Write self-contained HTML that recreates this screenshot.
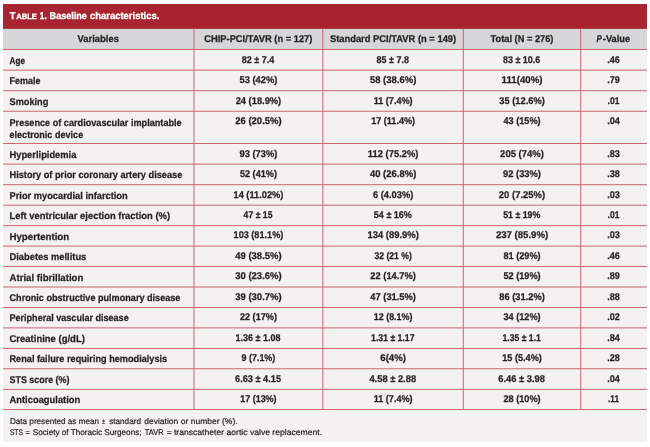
<!DOCTYPE html>
<html><head><meta charset="utf-8"><title>Table 1. Baseline characteristics</title>
<style>
html,body{margin:0;padding:0;background:#fff;}
svg{display:block;will-change:transform;}
svg text{white-space:pre;text-rendering:geometricPrecision;}
svg g.t{opacity:0.999;}
</style></head>
<body>
<svg width="650" height="447" viewBox="0 0 650 447">
<rect x="0" y="0" width="650" height="447" fill="#ffffff"/>
<rect x="3" y="49.5" width="644" height="392.3" fill="#f3f1f2"/>
<rect x="3" y="28.9" width="644" height="20.6" fill="#d6d5d8"/>
<rect x="3" y="4" width="644" height="24.9" fill="#a72430"/>
<g stroke="#c55664" stroke-width="0.9" fill="none">
<line x1="3" y1="49.5" x2="647" y2="49.5"/>
<line x1="3" y1="70.15" x2="647" y2="70.15"/>
<line x1="3" y1="90.7" x2="647" y2="90.7"/>
<line x1="3" y1="111.25" x2="647" y2="111.25"/>
<line x1="3" y1="143.5" x2="647" y2="143.5"/>
<line x1="3" y1="164.1" x2="647" y2="164.1"/>
<line x1="3" y1="184.7" x2="647" y2="184.7"/>
<line x1="3" y1="205.2" x2="647" y2="205.2"/>
<line x1="3" y1="225.65" x2="647" y2="225.65"/>
<line x1="3" y1="246.1" x2="647" y2="246.1"/>
<line x1="3" y1="266.45" x2="647" y2="266.45"/>
<line x1="3" y1="287.0" x2="647" y2="287.0"/>
<line x1="3" y1="307.5" x2="647" y2="307.5"/>
<line x1="3" y1="327.9" x2="647" y2="327.9"/>
<line x1="3" y1="348.45" x2="647" y2="348.45"/>
<line x1="3" y1="368.75" x2="647" y2="368.75"/>
<line x1="3" y1="389.4" x2="647" y2="389.4"/>
<line x1="3" y1="409.5" x2="647" y2="409.5"/>
<line x1="194.0" y1="28.9" x2="194.0" y2="409.5"/>
<line x1="322.85" y1="28.9" x2="322.85" y2="409.5"/>
<line x1="463.3" y1="28.9" x2="463.3" y2="409.5"/>
<line x1="580.7" y1="28.9" x2="580.7" y2="409.5"/>
</g>
<g class="t" font-family="'Liberation Sans', sans-serif" font-weight="bold" font-size="9.8" fill="#231f20" stroke="#231f20" stroke-width="0.25">
<text transform="translate(77.6,42.3) scale(0.9592,1)">Variables</text>
<text transform="translate(204.3,42.3) scale(0.9505,1)">CHIP-PCI/TAVR (n = 127)</text>
<text transform="translate(329.9,42.3) scale(0.9551,1)">Standard PCI/TAVR (n = 149)</text>
<text transform="translate(490.6,42.3) scale(0.9450,1)">Total (N = 276)</text>
<text transform="translate(596.5,42.3) scale(0.8000,1)" font-style="italic">P</text>
<text transform="translate(602.8,42.3) scale(0.9452,1)">-Value</text>
<text transform="translate(9.5,63.7) scale(0.8395,1)">Age</text>
<text transform="translate(241.86,62.8) scale(0.9162,1)">82 ± 7.4</text>
<text transform="translate(376.56,62.8) scale(0.9162,1)">85 ± 7.8</text>
<text transform="translate(502.92,62.8) scale(0.9181,1)">83 ± 10.6</text>
<text transform="translate(607.2,62.8) scale(0.9245,1)">.46</text>
<text transform="translate(9.5,84.35) scale(0.9151,1)">Female</text>
<text transform="translate(239.48,83.25) scale(0.9534,1)">53 (42%)</text>
<text transform="translate(369.94,83.25) scale(0.9675,1)">58 (38.6%)</text>
<text transform="translate(501.59,83.25) scale(0.9872,1)">111(40%)</text>
<text transform="translate(607.2,83.25) scale(0.9245,1)">.79</text>
<text transform="translate(9.5,104.9) scale(0.9375,1)">Smoking</text>
<text transform="translate(235.67,103.5) scale(0.9499,1)">24 (18.9%)</text>
<text transform="translate(373.74,103.5) scale(0.9244,1)">11 (7.4%)</text>
<text transform="translate(499.26,103.5) scale(0.9499,1)">35 (12.6%)</text>
<text transform="translate(607.62,103.5) scale(0.8652,1)">.01</text>
<text transform="translate(9.5,125.65) scale(0.9328,1)">Presence of cardiovascular implantable</text>
<text transform="translate(9.5,138.05) scale(0.9269,1)">electronic device</text>
<text transform="translate(235.25,124.1) scale(0.9675,1)">26 (20.5%)</text>
<text transform="translate(371.2,124.1) scale(0.9251,1)">17 (11.4%)</text>
<text transform="translate(503.5,124.1) scale(0.9321,1)">43 (15%)</text>
<text transform="translate(607.2,124.1) scale(0.9245,1)">.04</text>
<text transform="translate(9.5,157.7) scale(0.9522,1)">Hyperlipidemia</text>
<text transform="translate(239.48,156.8) scale(0.9534,1)">93 (73%)</text>
<text transform="translate(367.83,156.8) scale(0.9576,1)">112 (75.2%)</text>
<text transform="translate(500.12,156.8) scale(0.9693,1)">205 (74%)</text>
<text transform="translate(607.2,156.8) scale(0.9245,1)">.83</text>
<text transform="translate(9.5,178.3) scale(0.9389,1)">History of prior coronary artery disease</text>
<text transform="translate(239.9,177.3) scale(0.9321,1)">52 (41%)</text>
<text transform="translate(369.94,177.3) scale(0.9675,1)">40 (26.8%)</text>
<text transform="translate(503.07,177.3) scale(0.9534,1)">92 (33%)</text>
<text transform="translate(607.2,177.3) scale(0.9245,1)">.38</text>
<text transform="translate(9.5,198.9) scale(0.9480,1)">Prior myocardial infarction</text>
<text transform="translate(233.55,197.5) scale(0.9416,1)">14 (11.02%)</text>
<text transform="translate(372.9,197.5) scale(0.9523,1)">6 (4.03%)</text>
<text transform="translate(498.84,197.5) scale(0.9675,1)">20 (7.25%)</text>
<text transform="translate(607.2,197.5) scale(0.9245,1)">.03</text>
<text transform="translate(9.5,219.4) scale(0.9607,1)">Left ventricular ejection fraction (%)</text>
<text transform="translate(243.56,218) scale(0.8892,1)">47 ± 15</text>
<text transform="translate(373.86,218) scale(0.9201,1)">54 ± 16%</text>
<text transform="translate(503.17,218) scale(0.8999,1)">51 ± 19%</text>
<text transform="translate(607.62,218) scale(0.8652,1)">.01</text>
<text transform="translate(9.5,239.85) scale(0.9879,1)">Hypertention</text>
<text transform="translate(233.55,238.45) scale(0.9321,1)">103 (81.1%)</text>
<text transform="translate(367.41,238.45) scale(0.9637,1)">134 (89.9%)</text>
<text transform="translate(495.89,238.45) scale(0.9795,1)">237 (85.9%)</text>
<text transform="translate(607.2,238.45) scale(0.9245,1)">.03</text>
<text transform="translate(9.5,260.3) scale(0.9528,1)">Diabetes mellitus</text>
<text transform="translate(235.25,258.9) scale(0.9675,1)">49 (38.5%)</text>
<text transform="translate(374.38,258.9) scale(0.8822,1)">32 (21 %)</text>
<text transform="translate(503.5,258.9) scale(0.9321,1)">81 (29%)</text>
<text transform="translate(607.2,258.9) scale(0.9245,1)">.46</text>
<text transform="translate(9.5,280.65) scale(0.9836,1)">Atrial fibrillation</text>
<text transform="translate(235.25,279.25) scale(0.9675,1)">30 (23.6%)</text>
<text transform="translate(370.37,279.25) scale(0.9499,1)">22 (14.7%)</text>
<text transform="translate(503.5,279.25) scale(0.9321,1)">52 (19%)</text>
<text transform="translate(607.2,279.25) scale(0.9245,1)">.89</text>
<text transform="translate(9.5,300.9) scale(0.9287,1)">Chronic obstructive pulmonary disease</text>
<text transform="translate(235.25,299.8) scale(0.9675,1)">39 (30.7%)</text>
<text transform="translate(370.37,299.8) scale(0.9499,1)">47 (31.5%)</text>
<text transform="translate(499.26,299.8) scale(0.9499,1)">86 (31.2%)</text>
<text transform="translate(607.2,299.8) scale(0.9245,1)">.88</text>
<text transform="translate(9.5,321.3) scale(0.9234,1)">Peripheral vascular disease</text>
<text transform="translate(239.9,320.3) scale(0.9321,1)">22 (17%)</text>
<text transform="translate(373.74,320.3) scale(0.9125,1)">12 (8.1%)</text>
<text transform="translate(503.5,320.3) scale(0.9321,1)">34 (12%)</text>
<text transform="translate(607.2,320.3) scale(0.9245,1)">.02</text>
<text transform="translate(9.5,341.8) scale(0.9682,1)">Creatinine (g/dL)</text>
<text transform="translate(235.52,340.7) scale(0.9205,1)">1.36 ± 1.08</text>
<text transform="translate(371.06,340.7) scale(0.8865,1)">1.31 ± 1.17</text>
<text transform="translate(502.49,340.7) scale(0.8811,1)">1.35 ± 1.1</text>
<text transform="translate(607.2,340.7) scale(0.9245,1)">.84</text>
<text transform="translate(9.5,362.35) scale(0.9343,1)">Renal failure requiring hemodialysis</text>
<text transform="translate(241.58,361.25) scale(0.9099,1)">9 (7.1%)</text>
<text transform="translate(380.3,361.25) scale(0.9818,1)">6(4%)</text>
<text transform="translate(502.22,361.25) scale(0.9324,1)">15 (5.4%)</text>
<text transform="translate(607.2,361.25) scale(0.9245,1)">.28</text>
<text transform="translate(9.5,382.75) scale(0.9099,1)">STS score (%)</text>
<text transform="translate(235.1,381.55) scale(0.9374,1)">6.63 ± 4.15</text>
<text transform="translate(369.38,381.55) scale(0.9544,1)">4.58 ± 2.88</text>
<text transform="translate(498.27,381.55) scale(0.9544,1)">6.46 ± 3.98</text>
<text transform="translate(607.2,381.55) scale(0.9245,1)">.04</text>
<text transform="translate(9.5,402.8) scale(0.9563,1)">Anticoagulation</text>
<text transform="translate(240.31,402.2) scale(0.9109,1)">17 (13%)</text>
<text transform="translate(373.74,402.2) scale(0.9244,1)">11 (7.4%)</text>
<text transform="translate(503.5,402.2) scale(0.9321,1)">28 (10%)</text>
<text transform="translate(608.04,402.2) scale(0.8379,1)">.11</text>
</g>
<g class="t" font-family="'Liberation Sans', sans-serif" font-weight="bold" font-size="9.8" fill="#ffffff" stroke="#ffffff" stroke-width="0.3">
<text transform="translate(9.7,18.8) scale(0.9500,1)">T</text>
<text transform="translate(16.2,18.8) scale(0.9703,1)" font-size="7.8">ABLE</text>
<text transform="translate(39.8,18.8) scale(0.8404,1)">1.</text>
<text transform="translate(49.6,18.8) scale(0.9254,1)">Baseline</text>
<text transform="translate(90,18.8) scale(0.9644,1)">characteristics.</text>
</g>
<g class="t" font-family="'Liberation Sans', sans-serif" font-size="8.2" fill="#231f20" stroke="#231f20" stroke-width="0.2">
<text transform="translate(9.9,423.9) scale(0.9943,1)">Data presented as mean</text>
<text transform="translate(102.1,423.9) scale(0.6800,1)">±</text>
<text transform="translate(109.2,423.9) scale(0.9966,1)">standard</text>
<text transform="translate(144.2,423.9) scale(1.0417,1)">deviation or number (%).</text>
<text transform="translate(9.9,434.7) scale(0.8140,1)">STS</text>
<text transform="translate(25.6,434.7) scale(0.9000,1)">=</text>
<text transform="translate(32.8,434.7) scale(0.9968,1)">Society of Thoracic Surgeons;</text>
<text transform="translate(144.8,434.7) scale(0.9079,1)">TAVR</text>
<text transform="translate(166.8,434.7) scale(1.0400,1)">=</text>
<text transform="translate(173.9,434.7) scale(1.0504,1)">transcatheter aortic valve replacement.</text>
</g>
</svg>
</body></html>
